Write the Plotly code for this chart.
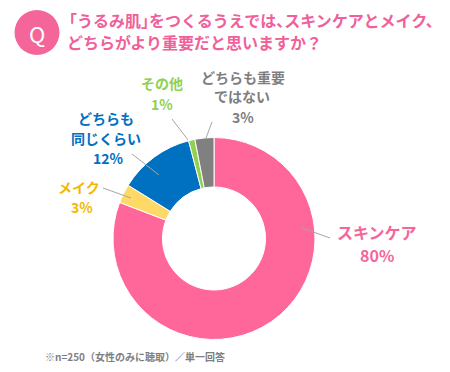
import plotly.graph_objects as go

# Data
categories = ["スキンケア", "メイク", "どちらも同じくらい", "その他", "どちらも重要ではない"]
values = [80, 3, 12, 1, 3]
pct_labels = ["80%", "3%", "12%", "1%", "3%"]

colors = ["#FF6699", "#FFD966", "#0070C0", "#92D050", "#808080"]
text_colors = ["#F4669A", "#F5B800", "#0070C0", "#92D050", "#7F7F7F"]

W, H = 450, 372
cx, cy, R = 214, 238.5, 101
FONT = "Noto Sans CJK JP"

fig = go.Figure()
fig.add_trace(go.Pie(
    labels=categories, values=values, hole=0.51, sort=False,
    direction="clockwise", rotation=0,
    marker=dict(colors=colors, line=dict(color="white", width=1)),
    textinfo="none", hoverinfo="label+percent", showlegend=False,
    domain=dict(x=[(cx - R) / W, (cx + R) / W], y=[1 - (cy + R) / H, 1 - (cy - R) / H]),
))

def px(x):
    return x / W

def py(y):
    return 1 - y / H

annotations = []
shapes = []

def add_text(x, y, text, color, size, anchor="center", height=None):
    a = dict(
        x=px(x), y=py(y), xref="paper", yref="paper", text=f"<b>{text}</b>",
        showarrow=False, xanchor=anchor, yanchor="middle",
        font=dict(family=FONT, size=size, color=color),
    )
    if height:
        a["height"] = height
    annotations.append(a)

def add_line(x0, y0, x1, y1):
    shapes.append(dict(type="line", xref="paper", yref="paper",
                       x0=px(x0), y0=py(y0), x1=px(x1), y1=py(y1),
                       line=dict(color="#A6A6A6", width=1)))

# Label layouts (text lines, positions) per category
label_lines = {
    0: [("スキンケア", 377, 232), (pct_labels[0], 377, 255)],
    1: [("メイク", 79, 187), (pct_labels[1], 82, 207)],
    2: [("どちらも", 106, 118), ("同じくらい", 106, 138), (pct_labels[2], 108, 158)],
    3: [("その他", 162, 83), (pct_labels[3], 162, 104)],
    4: [("どちらも重要", 243, 77), ("ではない", 242, 96), (pct_labels[4], 243, 117)],
}
leaders = {
    0: (302, 228, 330, 238),
    1: (131, 198, 103, 188),
    2: (159, 175, 132, 154),
    3: (188, 140, 172, 119),
    4: (206, 138, 212, 122),
}
for i, lines in label_lines.items():
    size = 16 if i == 0 else 14
    for t, x, y in lines:
        add_text(x, y, t, text_colors[i], size)
    add_line(*leaders[i])

# Title with Q badge
shapes.append(dict(type="circle", xref="paper", yref="paper",
                   x0=px(14.5), x1=px(59.5), y0=py(55), y1=py(10),
                   fillcolor="#F4669A", line=dict(width=0)))
annotations.append(dict(x=px(37), y=py(32.5), xref="paper", yref="paper", text="Q",
                        showarrow=False, xanchor="center", yanchor="middle",
                        font=dict(family=FONT, size=22, color="white")))
title_color = "#F0609A"
TS = 16
tight = "<span style='letter-spacing:-8px'>{}</span>"
title_line1 = "「うるみ肌" + tight.format("」") + "をつくるうえでは" + tight.format("、") + "スキンケアとメイク、"
title_line2 = "どちらがより重要だと思いますか？"
add_text(59, 20, title_line1, title_color, TS, anchor="left", height=21)
add_text(65, 41.5, title_line2, title_color, TS, anchor="left", height=21)

# Footnote
add_text(43, 356, "※n=250（女性のみに聴取）／単一回答", "#7F7F7F", 10, anchor="left")

fig.update_layout(
    width=W, height=H, margin=dict(l=0, r=0, t=0, b=0),
    paper_bgcolor="white", plot_bgcolor="white",
    annotations=annotations, shapes=shapes,
)
fig.write_html("out.html", config={"displayModeBar": False},
               post_script="document.body.style.margin='0';")
